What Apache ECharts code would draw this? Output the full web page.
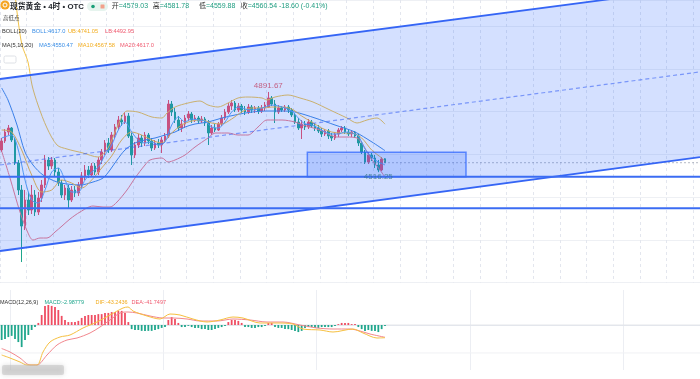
<!DOCTYPE html>
<html><head><meta charset="utf-8">
<script src="https://cdn.jsdelivr.net/npm/echarts@6/dist/echarts.min.js"></script>
<style>html,body{margin:0;padding:0;background:#fff}#c{width:700px;height:379px}</style>
</head><body><div id="c"></div>
<script>
// ---------- data ----------
const slotCount = 210;               // candle slots across the width (116 used)
const categories = Array.from({length: slotCount}, (_, i) => 'K' + (i + 1));
// [open, close, low, high]
const candles = [
[4620.0,4662.1,4610.6,4676.2],[4662.1,4704.2,4652.8,4718.3],[4704.2,4723.0,4690.2,4737.0],[4723.0,4666.8,4657.4,4727.6],
[4666.8,4559.2,4549.8,4676.2],[4559.2,4432.8,4409.4,4573.2],[4432.8,4264.3,4095.8,4456.2],[4264.3,4386.0,4245.6,4432.8],
[4386.0,4339.2,4315.8,4423.4],[4339.2,4409.4,4320.5,4456.2],[4409.4,4329.8,4311.1,4432.8],[4329.8,4395.4,4315.8,4423.4],
[4395.4,4456.2,4376.6,4479.6],[4456.2,4573.2,4442.2,4596.6],[4573.2,4545.1,4526.4,4587.2],[4545.1,4573.2,4531.1,4587.2],
[4573.2,4517.0,4498.3,4582.6],[4517.0,4465.6,4451.5,4535.8],[4465.6,4409.4,4395.4,4479.6],[4409.4,4442.2,4386.0,4456.2],
[4442.2,4386.0,4348.6,4456.2],[4386.0,4432.8,4376.6,4451.5],[4432.8,4418.8,4400.0,4451.5],[4418.8,4456.2,4404.7,4470.2],
[4456.2,4498.3,4442.2,4517.0],[4498.3,4526.4,4479.6,4549.8],[4526.4,4503.0,4488.9,4545.1],[4503.0,4545.1,4493.6,4559.2],
[4545.1,4517.0,4503.0,4559.2],[4517.0,4573.2,4503.0,4587.2],[4573.2,4610.6,4554.5,4624.7],[4610.6,4652.8,4596.6,4666.8],
[4652.8,4620.0,4606.0,4676.2],[4620.0,4690.2,4610.6,4704.2],[4690.2,4727.6,4676.2,4741.7],[4727.6,4760.4,4713.6,4779.1],
[4760.4,4751.0,4732.3,4783.8],[4751.0,4779.1,4741.7,4797.8],[4779.1,4685.5,4676.2,4793.2],[4685.5,4596.6,4549.8,4699.6],
[4596.6,4643.4,4582.6,4657.4],[4643.4,4676.2,4629.4,4694.9],[4676.2,4652.8,4634.0,4690.2],[4652.8,4690.2,4638.7,4704.2],
[4690.2,4662.1,4648.1,4699.6],[4662.1,4629.4,4615.3,4676.2],[4629.4,4652.8,4620.0,4666.8],[4652.8,4643.4,4629.4,4671.5],
[4643.4,4666.8,4606.0,4680.8],[4666.8,4685.5,4652.8,4699.6],[4685.5,4835.3,4676.2,4854.0],[4835.3,4797.8,4779.1,4849.3],
[4797.8,4760.4,4746.4,4816.6],[4760.4,4723.0,4708.9,4779.1],[4723.0,4741.7,4704.2,4760.4],[4741.7,4769.8,4723.0,4783.8],
[4769.8,4788.5,4755.7,4802.5],[4788.5,4760.4,4746.4,4797.8],[4760.4,4769.8,4751.0,4783.8],[4769.8,4755.7,4741.7,4779.1],
[4755.7,4765.1,4746.4,4779.1],[4765.1,4746.4,4732.3,4774.4],[4746.4,4699.6,4643.4,4760.4],[4699.6,4723.0,4690.2,4737.0],
[4723.0,4713.6,4704.2,4741.7],[4713.6,4741.7,4708.9,4751.0],[4741.7,4769.8,4732.3,4783.8],[4769.8,4797.8,4760.4,4811.9],
[4797.8,4825.9,4788.5,4839.9],[4825.9,4839.9,4807.2,4854.0],[4839.9,4807.2,4797.8,4849.3],[4807.2,4825.9,4797.8,4839.9],
[4825.9,4807.2,4793.2,4835.3],[4807.2,4797.8,4783.8,4825.9],[4797.8,4821.2,4788.5,4835.3],[4821.2,4807.2,4793.2,4830.6],
[4807.2,4816.6,4793.2,4825.9],[4816.6,4802.5,4788.5,4825.9],[4802.5,4816.6,4793.2,4830.6],[4816.6,4830.6,4802.5,4844.6],
[4821.2,4863.4,4816.6,4891.67],[4863.4,4835.3,4825.9,4872.7],[4835.3,4797.8,4746.4,4854.0],[4797.8,4816.6,4788.5,4830.6],
[4816.6,4807.2,4797.8,4825.9],[4807.2,4821.2,4797.8,4830.6],[4821.2,4807.2,4793.2,4830.6],[4807.2,4783.8,4774.4,4816.6],
[4783.8,4751.0,4741.7,4793.2],[4751.0,4723.0,4713.6,4769.8],[4723.0,4741.7,4671.5,4760.4],[4741.7,4727.6,4713.6,4755.7],
[4727.6,4751.0,4718.3,4765.1],[4751.0,4732.3,4723.0,4760.4],[4732.3,4723.0,4708.9,4746.4],[4723.0,4708.9,4699.6,4737.0],
[4708.9,4694.9,4680.8,4723.0],[4694.9,4708.9,4685.5,4718.3],[4708.9,4685.5,4671.5,4718.3],[4685.5,4676.2,4662.1,4699.6],
[4676.2,4694.9,4666.8,4704.2],[4694.9,4713.6,4680.8,4723.0],[4713.6,4723.0,4704.2,4732.3],[4723.0,4704.2,4694.9,4732.3],
[4704.2,4694.9,4685.5,4713.6],[4694.9,4704.2,4680.8,4713.6],[4704.2,4685.5,4676.2,4708.9],[4685.5,4652.8,4638.7,4694.9],
[4652.8,4610.6,4601.3,4662.1],[4610.6,4563.8,4554.5,4620.0],[4563.8,4596.6,4554.5,4610.6],[4596.6,4582.6,4568.5,4606.0],
[4582.6,4549.8,4535.8,4596.6],[4549.8,4526.4,4516.25,4573.2],[4526.4,4577.9,4521.7,4587.2],[4579.03,4560.54,4559.88,4581.78]
];
// Bollinger / MA lines, [candle index, price]
const bollUpper = [[-0.5,5602.8],[3.1,5439.0],[4.9,5228.4],[6.1,5111.4],[7.9,5031.8],[9.1,4924.2],[10.9,4830.6],[13.6,4723.0],[16.6,4643.4],[19.6,4624.7],[24.4,4606.0],[28.9,4587.2],[31.9,4629.4],[34.9,4737.0],[37.6,4802.5],[40.9,4797.8],[45.1,4774.4],[48.1,4769.8],[49.6,4793.2],[52,4821.2],[55.9,4839.9],[59.5,4849.3],[61.9,4830.6],[64.9,4821.2],[67.9,4839.9],[70.9,4863.4],[73.9,4868.0],[78.1,4863.4],[79.6,4854.0],[82,4868.0],[85.9,4877.4],[89.5,4863.4],[93.4,4844.6],[98.5,4807.2],[103.6,4769.8],[106.6,4746.4],[109.6,4760.4],[112.6,4769.8],[115,4741.05]];
const bollMid = [[0,4910.2],[1.9,4854.0],[4.6,4737.0],[7,4610.6],[9.4,4549.8],[12.4,4503.0],[16.6,4470.2],[19.6,4460.9],[23.5,4456.2],[27.4,4470.2],[30.4,4488.9],[32.5,4526.4],[34.6,4573.2],[37,4620.0],[40,4652.8],[43,4666.8],[46,4676.2],[49,4690.2],[52,4704.2],[55,4727.6],[58,4741.7],[61.9,4751.0],[66.1,4769.8],[70,4783.8],[75.1,4797.8],[79.9,4802.5],[84.1,4802.5],[88,4797.8],[94,4769.8],[100,4737.0],[106,4704.2],[111.1,4657.4],[115,4617.0]];
const bollLower = [[0,4615.0],[2.5,4488.9],[5.5,4329.8],[7.9,4231.6],[9.4,4198.8],[11.5,4208.2],[13.6,4208.2],[16,4236.2],[18.1,4264.3],[20.5,4297.1],[23.5,4329.8],[27.4,4357.9],[30.4,4353.2],[32.5,4353.2],[34.6,4376.6],[37.6,4432.8],[40,4488.9],[43,4549.8],[44.5,4573.2],[48.1,4582.6],[49.9,4563.8],[52,4573.2],[55,4596.6],[58,4634.0],[61.9,4676.2],[64,4699.6],[67.9,4699.6],[70.9,4690.2],[73.9,4690.2],[76.9,4727.6],[79.6,4760.4],[84.1,4760.4],[88,4751.0],[90.4,4737.0],[95.5,4713.6],[100.6,4680.8],[103.6,4680.8],[106.6,4676.2],[108.1,4652.8],[110.5,4587.2],[113.5,4526.4],[115,4492.95]];
const ma5 = [[0,4676.2],[3,4690.2],[5,4620.0],[7,4479.6],[9,4386.0],[11,4371.9],[13,4432.8],[15,4517.0],[17,4535.8],[19,4479.6],[21,4423.4],[23,4423.4],[25,4479.6],[27,4517.0],[29,4540.4],[31,4596.6],[33,4643.4],[35,4713.6],[37,4751.0],[39,4704.2],[41,4666.8],[43,4652.8],[45,4657.4],[47,4643.4],[49,4657.4],[51,4737.0],[53,4774.4],[55,4751.0],[57,4765.1],[59,4760.4],[61,4755.7],[63,4727.6],[65,4723.0],[67,4751.0],[69,4797.8],[71,4821.2],[73,4811.9],[75,4807.2],[77,4811.9],[79,4821.2],[81,4830.6],[83,4825.9],[85,4816.6],[87,4802.5],[89,4769.8],[91,4741.7],[93,4737.0],[95,4723.0],[97,4704.2],[99,4694.9],[101,4694.9],[103,4704.2],[105,4699.6],[107,4685.5],[109,4624.7],[111,4587.2],[113,4563.8],[115,4550.47]];
const ma10 = [[0,4713.6],[3,4704.2],[6,4620.0],[9,4503.0],[12,4423.4],[15,4432.8],[18,4479.6],[21,4465.6],[24,4442.2],[27,4479.6],[30,4535.8],[33,4591.9],[36,4666.8],[39,4704.2],[42,4690.2],[45,4666.8],[48,4652.8],[51,4699.6],[54,4737.0],[57,4755.7],[60,4760.4],[63,4746.4],[66,4741.7],[69,4765.1],[72,4797.8],[75,4816.6],[78,4816.6],[81,4821.2],[84,4821.2],[87,4811.9],[90,4779.1],[93,4751.0],[96,4723.0],[99,4704.2],[102,4699.6],[105,4699.6],[108,4676.2],[111,4620.0],[114,4582.6],[115,4567.58]];
// drawings (candle index, price)
const channelUpper = [[-0.5,4952.3],[209.5,5381.4]];
const channelLower = [[-0.5,4147.3],[209.5,4586.3]];
const channelMid   = [[-0.5,4549.8],[209.5,4985.5]];
const levelLines = [4495.0, 4347.2];
const zoneBox = [[91.7,4609.2],[139.3,4495.0]];
const lastPrice = 4560.54;
const highIdx = 80, lowIdx = 113;
// MACD
const macdHist = [-51,-48,-41,-37,-48,-58,-75,-51,-34,-17,-7,7,34,65,68,65,61,51,31,17,10,10,10,14,24,31,34,34,34,37,37,41,41,44,44,48,48,41,10,-14,-17,-17,-20,-20,-20,-20,-17,-14,-10,-7,17,27,20,7,-7,-7,-3,-7,-10,-10,-14,-14,-17,-17,-14,-10,-7,-3,10,17,17,14,7,-7,-7,-10,-10,-7,-7,-3,7,7,-7,-10,-10,-14,-14,-17,-20,-24,-20,-10,-7,-7,-10,-10,-7,-7,-7,-7,-3,3,7,7,7,3,3,-7,-14,-20,-17,-20,-20,-24,-14,-2.98779];
const difLine = [[0,-102],[2.5,-112.2],[5.5,-125.8],[7.6,-136],[10.6,-136],[12.4,-91.8],[14.5,-57.8],[17.5,-40.8],[20.5,-34],[24.4,-10.2],[28.6,10.2],[32.5,34],[36.4,57.8],[37.9,61.2],[39.4,47.6],[43.6,30.6],[47.5,20.4],[50.5,37.4],[53.5,34],[57.4,20.4],[61.6,10.2],[65.5,17],[69.4,27.2],[72.4,23.8],[77.5,6.8],[82.6,6.8],[87.4,3.4],[90.4,-13.6],[95.5,-17],[99.4,-23.8],[105.4,-13.6],[108.4,-27.2],[112.6,-44.2],[115,-43.2436]];
const deaLine = [[0,-80],[2.5,-91.8],[5.5,-112.2],[8.5,-136],[10.6,-136],[13.6,-102],[16.6,-68],[19.6,-51],[22.6,-44.2],[26.5,-27.2],[29.5,-6.8],[32.5,17],[35.5,40.8],[37.9,44.2],[40.6,40.8],[44.5,30.6],[48.4,23.8],[51.4,23.8],[55.6,20.4],[59.5,13.6],[64.6,13.6],[69.4,20.4],[74.5,17],[79.6,10.2],[84.4,10.2],[89.5,0],[94.6,-10.2],[99.4,-13.6],[104.5,-13.6],[107.5,-20.4],[110.5,-30.6],[115,-41.7497]];
// header texts
const quote = {open:'4579.03', high:'4581.78', low:'4559.88', close:'4560.54', chg:'-18.60 (-0.41%)'};
const bollText = ['BOLL:4617.0','UB:4741.05','LB:4492.95'];
const maText = ['MA5:4550.47','MA10:4567.58','MA20:4617.0'];
const macdText = ['MACD:-2.98779','DIF:-43.2436','DEA:-41.7497'];

// ---------- chart ----------
const FONT = '"Liberation Sans","Noto Sans CJK SC",sans-serif';
const UP = '#ef4d62', DOWN = '#1fa68c';
const chart = echarts.init(document.getElementById('c'), null, {renderer:'canvas'});
function T(x, y, text, fill, size, weight) {
  return {type:'text', x, y, z: 100, silent:true,
    style:{text, fill, fontSize:size, fontFamily:FONT, fontWeight:weight||'normal', verticalAlign:'middle'}};
}
const polySeries = (z, fill, stroke, pointsFn) => ({
  type:'custom', xAxisIndex:1, yAxisIndex:0, z, silent:true, data:[[0,4500]],
  renderItem(params, api) {
    return {type:'polygon', shape:{points: pointsFn(api)},
      style:{fill, stroke: stroke || null, lineWidth: stroke ? 1.5 : 0}};
  }
});
const plainLine = (xi, yi, data, color, width, z, type, smooth) => ({
  type:'line', xAxisIndex:xi, yAxisIndex:yi, data, symbol:'none', silent:true, z,
  smooth: smooth || false, lineStyle:{color, width, type: type || 'solid'}
});

const option = {
  animation:false,
  backgroundColor:'#ffffff',
  grid:[{left:0,right:0,top:0,height:282.5},{left:0,right:0,top:290,height:80}],
  xAxis:[
    {type:'category',gridIndex:0,data:categories,axisLine:{show:false},axisTick:{show:false},axisLabel:{show:false},
     splitLine:{show:true,interval:7,lineStyle:{color:'#e3e6ee',type:[3,3]}}},
    {type:'value',gridIndex:0,min:-0.5,max:209.5,show:false},
    {type:'category',gridIndex:1,data:categories,position:'top',axisLine:{show:true,lineStyle:{color:'#e3e6ec'}},axisTick:{show:false},axisLabel:{show:false},
     splitLine:{show:true,interval:(i)=> i % 46 === 3,lineStyle:{color:'#eceef3'}}},
    {type:'value',gridIndex:1,min:-0.5,max:209.5,show:false}
  ],
  yAxis:[
    {type:'value',gridIndex:0,min:4000,max:5322,interval:200,axisLine:{show:false},axisTick:{show:false},axisLabel:{show:false},
     splitLine:{lineStyle:{color:'#eef0f4'}}},
    {type:'value',gridIndex:1,min:-153,max:119,axisLine:{show:false},axisTick:{show:false},axisLabel:{show:false},splitLine:{show:false}}
  ],
  series:[
    {type:'candlestick',xAxisIndex:0,yAxisIndex:0,data:candles,barWidth:2.3,z:2,silent:true,
     itemStyle:{color:UP,color0:DOWN,borderColor:UP,borderColor0:DOWN,borderWidth:1}},
    plainLine(1,0,bollUpper,'#f3c44b',1,3,'solid',0.3),
    plainLine(1,0,bollLower,'#f07a86',1,3,'solid',0.3),
    plainLine(1,0,bollMid,'#3f87e3',1,3,'solid',0.3),
    plainLine(1,0,ma10,'#f5b83a',1,3,'solid',0.3),
    plainLine(1,0,ma5,'#5aa5f2',1,3,'solid',0.3),
    plainLine(1,0,[[-0.5,lastPrice],[209.5,lastPrice]],'rgba(120,130,150,0.55)',1,3,[2,2]),
    polySeries(5,'rgba(41,98,255,0.2)',null,(api)=>
      channelUpper.map(p=>api.coord(p)).concat(channelLower.slice().reverse().map(p=>api.coord(p)))),
    polySeries(6,'rgba(41,98,255,0.2)','rgba(41,98,255,0.7)',(api)=>{
      const a = api.coord(zoneBox[0]), b = api.coord(zoneBox[1]);
      return [[a[0],a[1]],[b[0],a[1]],[b[0],b[1]],[a[0],b[1]]];
    }),
    plainLine(1,0,channelUpper,'#3565f5',1.8,7),
    plainLine(1,0,channelLower,'#3565f5',1.8,7),
    plainLine(1,0,channelMid,'rgba(60,100,245,0.6)',1.2,7,[4,3]),
    ...levelLines.map(v=>plainLine(1,0,[[-0.5,v],[209.5,v]],'#3b6cf3',2,7)),
    {type:'scatter',xAxisIndex:1,yAxisIndex:0,symbolSize:0,z:9,silent:true,
     data:[
       {value:[highIdx,candles[highIdx][3]],label:{position:'top',distance:2,color:'#bf3f63'}},
       {value:[lowIdx,candles[lowIdx][2]],label:{position:'bottom',distance:1,color:'#34768a'}}
     ],
     label:{show:true,fontSize:8,fontFamily:FONT,formatter:(p)=>p.value[1].toFixed(2)}},
    // MACD
    {type:'bar',xAxisIndex:2,yAxisIndex:1,data:macdHist,barWidth:1.8,silent:true,
     itemStyle:{color:(p)=> p.value >= 0 ? UP : DOWN}},
    plainLine(3,1,[[-0.5,0],[209.5,0]],'#e4e6eb',1,1),
    plainLine(3,1,[[-0.5,-95],[209.5,-95]],'#f0f1f4',1,1),
    plainLine(3,1,deaLine,'#f2868d',1,3,'solid',0.3),
    plainLine(3,1,difLine,'#f6c040',1,3,'solid',0.3)
  ],
  graphic:[
    {type:'circle',shape:{cx:5,cy:5,r:4.6},style:{fill:'#f5a524'},z:100,silent:true},
    {type:'circle',shape:{cx:5,cy:5,r:2},style:{fill:'none',stroke:'#fff',lineWidth:1},z:101,silent:true},
    T(10,6.5,'现货黄金 • 4时 • OTC','#1f2329',7.8,'bold'),
    {type:'rect',shape:{x:87,y:2,width:21,height:9,r:4.5},style:{fill:'#e6f4ee'},z:100,silent:true},
    {type:'circle',shape:{cx:93,cy:6.5,r:1.8},style:{fill:'#1a9e77'},z:101,silent:true},
    {type:'rect',shape:{x:100.5,y:4.5,width:4,height:4,r:0.5},style:{fill:'#f2a08a'},z:101,silent:true},
    T(111.7,6.5,'开','#333',7), T(118.7,6.5,'='+quote.open,'#1f9d80',7),
    T(152.7,6.5,'高','#333',7), T(159.7,6.5,'='+quote.high,'#1f9d80',7),
    T(199,6.5,'低','#333',7), T(206,6.5,'='+quote.low,'#1f9d80',7),
    T(240.7,6.5,'收','#333',7), T(247.7,6.5,'='+quote.close+' '+quote.chg,'#1f9d80',7),
    T(3,18.5,'高低点','#444',5.5),
    T(2,31.5,'BOLL(20)','#333',5.7), T(32,31.5,bollText[0],'#3a8ee6',5.7), T(68,31.5,bollText[1],'#f2ac1e',5.7), T(105,31.5,bollText[2],'#ef5a6f',5.7),
    T(2,45,'MA(5,10,20)','#333',5.7), T(39,45,maText[0],'#3a8ee6',5.7), T(78,45,maText[1],'#f2ac1e',5.7), T(120,45,maText[2],'#ef5a6f',5.7),
    {type:'rect',shape:{x:4,y:56,width:12,height:7,r:1.5},style:{fill:'#fff',stroke:'#d6d9e0',lineWidth:0.8},z:100,silent:true},
    T(0,302.7,'MACD(12,26,9)','#333',5.5), T(44.5,302.7,macdText[0],'#1fa68c',5.5), T(95.5,302.7,macdText[1],'#f2ac1e',5.5), T(131.5,302.7,macdText[2],'#ef5a6f',5.5),
    {type:'rect',shape:{x:2,y:365,width:62,height:10,r:2},style:{fill:'rgba(185,185,185,0.45)',shadowBlur:5,shadowColor:'rgba(170,170,170,0.8)'},z:100,silent:true}
  ]
};
chart.setOption(option);
</script></body></html>
